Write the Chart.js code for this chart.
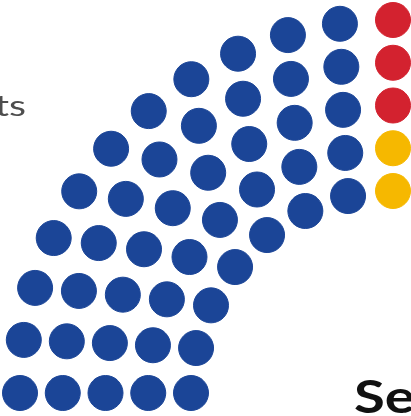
<!DOCTYPE html>
<html>
<head>
<meta charset="utf-8">
<script src="https://cdn.jsdelivr.net/npm/chart.js@4"></script>
<style>
    html, body { margin: 0; padding: 0; background: #fff; overflow: hidden; }
</style>
</head>
<body>
<canvas id="seatChart" width="411" height="416"></canvas>
<script>
/*-------------------------------------------------------------------------------
 DATA
 -------------------------------------------------------------------------------*/

// parties in seat order, left to right round the hemicycle
const parties = ['Party A', 'Party B', 'Party C', 'Others'];
const seats = [45, 3, 2, 45];
const colors = ['#1b4597', '#d3222f', '#f6b800', '#9a9a9a'];

const title = 'Senate';
const subtitle = '95 seats';


/*-------------------------------------------------------------------------------
 seat layout (concentric rows, seats sorted by angle)
 -------------------------------------------------------------------------------*/

const rows = 5;
const innerRadius = 202;
const rowGap = 42.75;

function seatLayout(total) {
    let list = [];
    let avg = total / rows;
    for (let i = 0; i < rows; i++) {
        let n = Math.round(avg + 2 * (i - (rows - 1) / 2));
        let r = innerRadius + rowGap * i;
        for (let k = 0; k < n; k++) {
            let a = Math.PI - k * Math.PI / (n - 1);
            list.push({x: r * Math.cos(a), y: r * Math.sin(a), a: a, r: r});
        }
    }
    // left to right; same angle -> outer row first
    list.sort(function (p, q) {
        return (Math.round(q.a * 1e6) - Math.round(p.a * 1e6)) || (q.r - p.r);
    });
    return list;
}

let total = seats.reduce((s, v) => s + v, 0);
let places = seatLayout(total);

let datasets = [];
let pos = 0;
for (let i = 0; i < parties.length; i++) {
    datasets.push({
        label: parties[i],
        data: places.slice(pos, pos + seats[i]).map(p => ({x: p.x, y: p.y})),
        backgroundColor: colors[i],
        borderColor: colors[i],
        borderWidth: 1,
        pointRadius: 17.5,
        pointHoverRadius: 17.5
    });
    pos += seats[i];
}


/*-------------------------------------------------------------------------------
 texts (the source lettering is rather wide, hence the x stretch)
 -------------------------------------------------------------------------------*/

const textPlugin = {
    id: 'texts',
    afterDraw(chart) {
        let ctx = chart.ctx;
        ctx.save();
        ctx.translate(26, 116);
        ctx.scale(1.4, 1);
        ctx.fillStyle = '#4e4e4e';
        ctx.font = '28px Lato';
        ctx.textAlign = 'right';
        ctx.textBaseline = 'alphabetic';
        ctx.fillText(subtitle, 0, 0);
        ctx.restore();

        ctx.save();
        ctx.translate(354, 413);
        ctx.scale(1.25, 1);
        ctx.fillStyle = '#111111';
        ctx.font = 'bold 45px Lato';
        ctx.textAlign = 'left';
        ctx.fillText(title, 0, 0);
        ctx.restore();
    }
};


/*-------------------------------------------------------------------------------
 chart
 -------------------------------------------------------------------------------*/

let ctx = document.getElementById('seatChart').getContext('2d');
let seatChart = new Chart(ctx, {
    type: 'scatter',
    data: {datasets: datasets},
    options: {
        responsive: false,
        animation: false,
        layout: {padding: 0, autoPadding: false},
        plugins: {
            legend: {display: false},
            tooltip: {enabled: false}
        },
        scales: {
            x: {display: false, min: -393, max: 18},
            y: {display: false, min: -23, max: 393}
        }
    },
    plugins: [textPlugin]
});
</script>
</body>
</html>
